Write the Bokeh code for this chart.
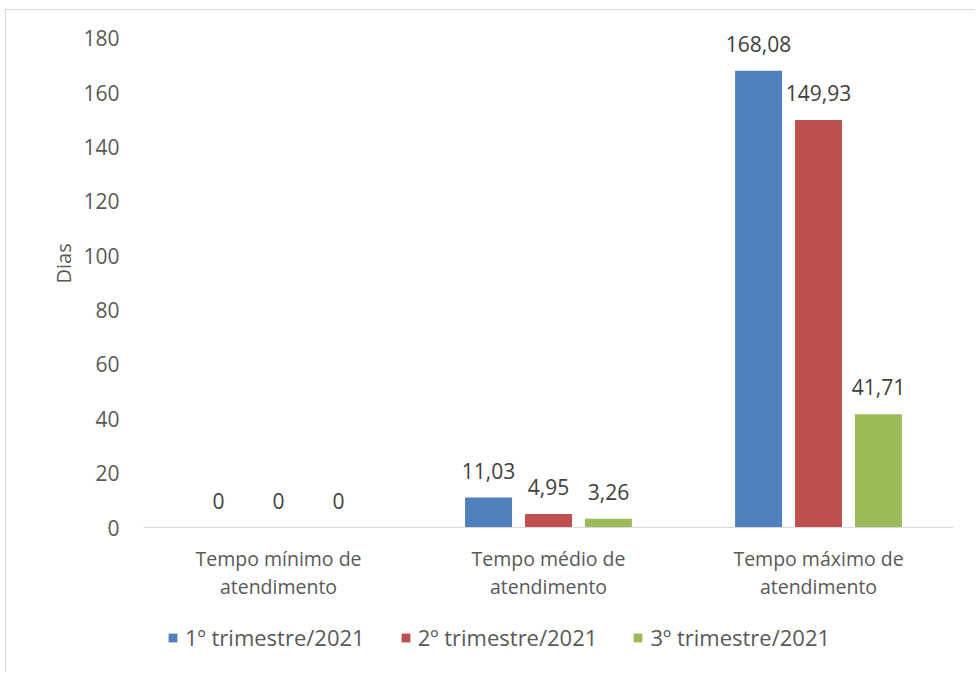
from bokeh.plotting import figure
from bokeh.models import ColumnDataSource, FactorRange, Legend, LegendItem, Range1d, FixedTicker, Span, Title
from bokeh.transform import dodge
from bokeh.core.properties import value
from bokeh.embed import file_html
from bokeh.resources import INLINE

categories = ["Tempo mínimo de\natendimento", "Tempo médio de\natendimento", "Tempo máximo de\natendimento"]
series_names = ["1º trimestre/2021", "2º trimestre/2021", "3º trimestre/2021"]
t1 = [0, 11.03, 168.08]
t2 = [0, 4.95, 149.93]
t3 = [0, 3.26, 41.71]
y_ticks = [0, 20, 40, 60, 80, 100, 120, 140, 160, 180]
y_title = "Dias"
colors = ["#4f81bd", "#c0504d", "#9bbb59"]
FONT = "Open Sans"


def fmt(v):
    if v == int(v):
        return str(int(v))
    return f"{v:.2f}".replace(".", ",")


src = ColumnDataSource(dict(
    cat=categories, zero=[0] * len(categories), t1=t1, t2=t2, t3=t3,
    l1=[fmt(v) for v in t1], l2=[fmt(v) for v in t2], l3=[fmt(v) for v in t3],
))

p = figure(width=970, height=663, x_range=FactorRange(*categories), y_range=Range1d(-53.7, 188),
           output_backend="svg", toolbar_location=None,
           min_border_left=137, min_border_right=23, min_border_top=6, min_border_bottom=0)
p.margin = (9, 0, 0, 5)
p.styles = {"border-left": "1px solid #d9d9d9", "border-top": "1px solid #d9d9d9"}
p.outline_line_color = None
p.xgrid.grid_line_color = None
p.ygrid.grid_line_color = None
p.xaxis.visible = False

p.add_layout(Span(location=0, dimension="width", line_color="#d9d9d9", line_width=1))

renderers = []
offsets = [-0.222, 0.0, 0.222]
for key, lab, off, col in zip(["t1", "t2", "t3"], ["l1", "l2", "l3"], offsets, colors):
    r = p.vbar(x=dodge("cat", off, range=p.x_range), top=key, width=0.174, source=src,
               fill_color=col, line_color=None)
    renderers.append(r)
    p.text(x=dodge("cat", off, range=p.x_range), y=key, text=lab, source=src,
           text_align="center", text_baseline="bottom", y_offset=-19,
           text_font=value(FONT), text_font_size="21px", text_color="#404040")

# category labels under the axis line
p.text(x="cat", y="zero", text="cat", source=src, text_align="center", text_baseline="top",
       y_offset=17, text_line_height=1.05,
       text_font=value(FONT), text_font_size="19.5px", text_color="#595959")

p.yaxis.ticker = FixedTicker(ticks=y_ticks)
p.yaxis.axis_line_color = None
p.yaxis.major_tick_line_color = None
p.yaxis.minor_tick_line_color = None
p.yaxis.major_label_standoff = 18
p.yaxis.major_label_text_font = FONT
p.yaxis.major_label_text_font_size = "21px"
p.yaxis.major_label_text_color = "#595959"

ttl = Title(text=y_title, align="left", offset=390, text_font=FONT, text_font_size="20px",
            text_font_style="normal", text_color="#595959", standoff=8)
p.add_layout(ttl, "left")

legend = Legend(items=[LegendItem(label=n, renderers=[r]) for n, r in zip(series_names, renderers)],
                orientation="horizontal", location=(24, 21))
legend.glyph_width = 11
legend.glyph_height = 11
legend.spacing = 35
legend.label_standoff = 7
legend.padding = 0
legend.margin = 0
legend.label_text_font = FONT
legend.label_text_font_size = "22px"
legend.label_text_color = "#595959"
legend.border_line_color = None
legend.background_fill_alpha = 0
p.add_layout(legend, "center")

open("out.html", "w").write(file_html(p, INLINE))
